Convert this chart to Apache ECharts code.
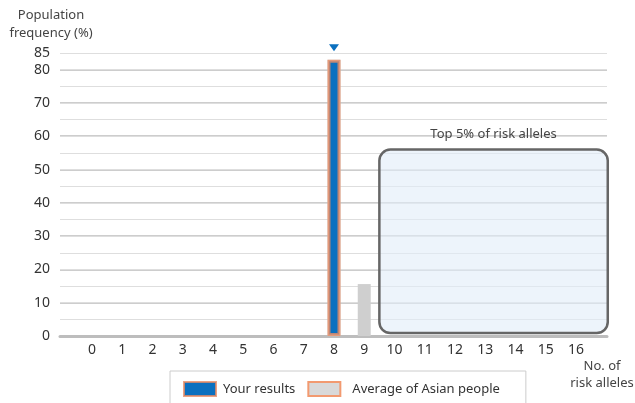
<!DOCTYPE html>
<html>
<head>
<meta charset="utf-8">
<script src="https://cdn.jsdelivr.net/npm/echarts@6/dist/echarts.min.js"></script>
<style>
  html, body { margin: 0; padding: 0; background: #ffffff; }
  #chart { width: 635px; height: 403px; }
</style>
</head>
<body>
<div id="chart"></div>
<script>
// Number of risk alleles (x positions) and their tick labels
const alleleCounts = [0, 1, 2, 3, 4, 5, 6, 7, 8, 9, 10, 11, 12, 13, 14, 15, 16];
const alleleLabels = ['0', '1', '2', '3', '4', '5', '6', '7', '8', '9', '10', '11', '12', '13', '14', '15', '16'];

// Population frequency (%) of each allele count among Asian people
const averageAsian = [0, 0, 0, 0, 0, 0, 0, 0, 83, 15.6, 0, 0, 0, 0, 0, 0, 0];

// The user's own allele count and the frequency shown for it
const yourCount = 8;
const yourFrequency = 83;

// Y tick labels
const yTicks = [0, 10, 20, 30, 40, 50, 60, 70, 80, 85];

// Shaded "top 5%" region: allele range and frequency range it spans
const topRegionX = [9.5, 17.05];
const topRegionY = [0.9, 56];
const topRegionLabel = 'Top 5% of risk alleles';

const FONT = '"Noto Sans", "Open Sans", sans-serif';
const BLUE = '#0b70bf';
const GRAY = '#cfcfcf';
const ORANGE = 'rgba(232,140,100,0.8)';

const chart = echarts.init(document.getElementById('chart'), null, { renderer: 'canvas' });

const avgData = alleleCounts.map((c, i) => [c, averageAsian[i]]);
const yourData = [[yourCount, yourFrequency]];

// Colour list for major split lines; the top line is left to the minor axis
const majorColors = yTicks.map((t, i) => (i === yTicks.length - 1 ? 'rgba(0,0,0,0)' : '#cdcdcd'));

const option = {
  animation: false,
  textStyle: { fontFamily: FONT },
  grid: { left: 60, right: 28, top: 53, bottom: 67, containLabel: false, outerBoundsMode: 'none' },
  xAxis: {
    type: 'value',
    min: -1.058,
    max: 17.025,
    axisLine: { show: true, lineStyle: { color: '#bdbdbd', width: 3 } },
    axisTick: { show: false },
    splitLine: { show: false },
    axisLabel: {
      customValues: alleleCounts,
      formatter: (v) => alleleLabels[alleleCounts.indexOf(Math.round(v))] || '',
      fontFamily: FONT, fontSize: 14, color: '#333', margin: 7
    }
  },
  yAxis: [
    {
      type: 'value',
      min: 0,
      max: 85,
      interval: 10,
      axisLine: { show: false },
      axisTick: { show: false },
      axisLabel: {
        customValues: yTicks,
        fontFamily: FONT, fontSize: 14, color: '#333', margin: 10
      },
      splitLine: { show: true, lineStyle: { color: majorColors, width: 2 } }
    },
    {
      // minor lines every 5 %
      type: 'value',
      min: 0,
      max: 85,
      interval: 5,
      position: 'left',
      axisLine: { show: false },
      axisTick: { show: false },
      axisLabel: { show: false },
      splitLine: { show: true, lineStyle: { color: '#dedede', width: 1 } }
    }
  ],
  legend: {
    left: 170,
    top: 371,
    padding: [10, 26, 10, 13],
    borderColor: '#cccccc',
    borderWidth: 1,
    itemWidth: 32,
    itemHeight: 14,
    itemGap: 12,
    icon: 'rect',
    selectedMode: false,
    textStyle: { fontFamily: FONT, fontSize: 13, color: '#333', padding: [0, 0, 0, 2] },
    data: [
      { name: 'Your results', itemStyle: { color: BLUE } },
      {
        name: 'Average of Asian people',
        itemStyle: { color: '#d9d9d9', borderColor: '#f29a70', borderWidth: 2 },
        textStyle: { padding: [0, 0, 0, 7] }
      }
    ]
  },
  graphic: [
    {
      type: 'text', x: 51, y: 6,
      style: {
        text: 'Population\nfrequency (%)', fontFamily: FONT, fontSize: 13, fill: '#444',
        align: 'center', verticalAlign: 'top', lineHeight: 18
      }
    },
    {
      type: 'text', x: 602, y: 358,
      style: {
        text: 'No. of\nrisk alleles', fontFamily: FONT, fontSize: 13, fill: '#444',
        align: 'center', verticalAlign: 'top', lineHeight: 17
      }
    }
  ],
  series: [
    {
      name: 'Average of Asian people',
      type: 'bar',
      barWidth: 13,
      barGap: '-100%',
      itemStyle: { color: GRAY },
      data: avgData,
      z: 3
    },
    {
      name: 'Your results',
      type: 'bar',
      barWidth: 13,
      barGap: '-100%',
      itemStyle: { color: BLUE, borderColor: ORANGE, borderWidth: 3 },
      data: yourData,
      z: 4,
      markPoint: {
        symbol: 'triangle',
        symbolSize: [10, 7],
        symbolRotate: 180,
        symbolOffset: [0, -12],
        itemStyle: { color: BLUE },
        label: { show: false },
        data: [{ coord: [yourCount, yourFrequency] }]
      }
    }
  ]
};

chart.setOption(option);

// Rounded box marking the top-5% region, placed through the axes
function drawRegion() {
  const p0 = chart.convertToPixel({ xAxisIndex: 0, yAxisIndex: 0 }, [topRegionX[0], topRegionY[1]]);
  const p1 = chart.convertToPixel({ xAxisIndex: 0, yAxisIndex: 0 }, [topRegionX[1], topRegionY[0]]);
  const x = p0[0], y = p0[1], w = p1[0] - p0[0], h = p1[1] - p0[1];
  chart.setOption({
    graphic: [
      {
        id: 'regionBox',
        type: 'rect',
        z: 1,
        shape: { x: x, y: y, width: w, height: h, r: 11 },
        style: { fill: 'rgba(225,236,249,0.6)', stroke: '#666666', lineWidth: 2.5 }
      },
      {
        id: 'regionLabel',
        type: 'text',
        z: 1,
        x: x + w / 2,
        y: y - 15,
        style: {
          text: topRegionLabel, fontFamily: FONT, fontSize: 13, fill: '#444',
          align: 'center', verticalAlign: 'middle'
        }
      }
    ]
  });
}
drawRegion();
</script>
</body>
</html>
